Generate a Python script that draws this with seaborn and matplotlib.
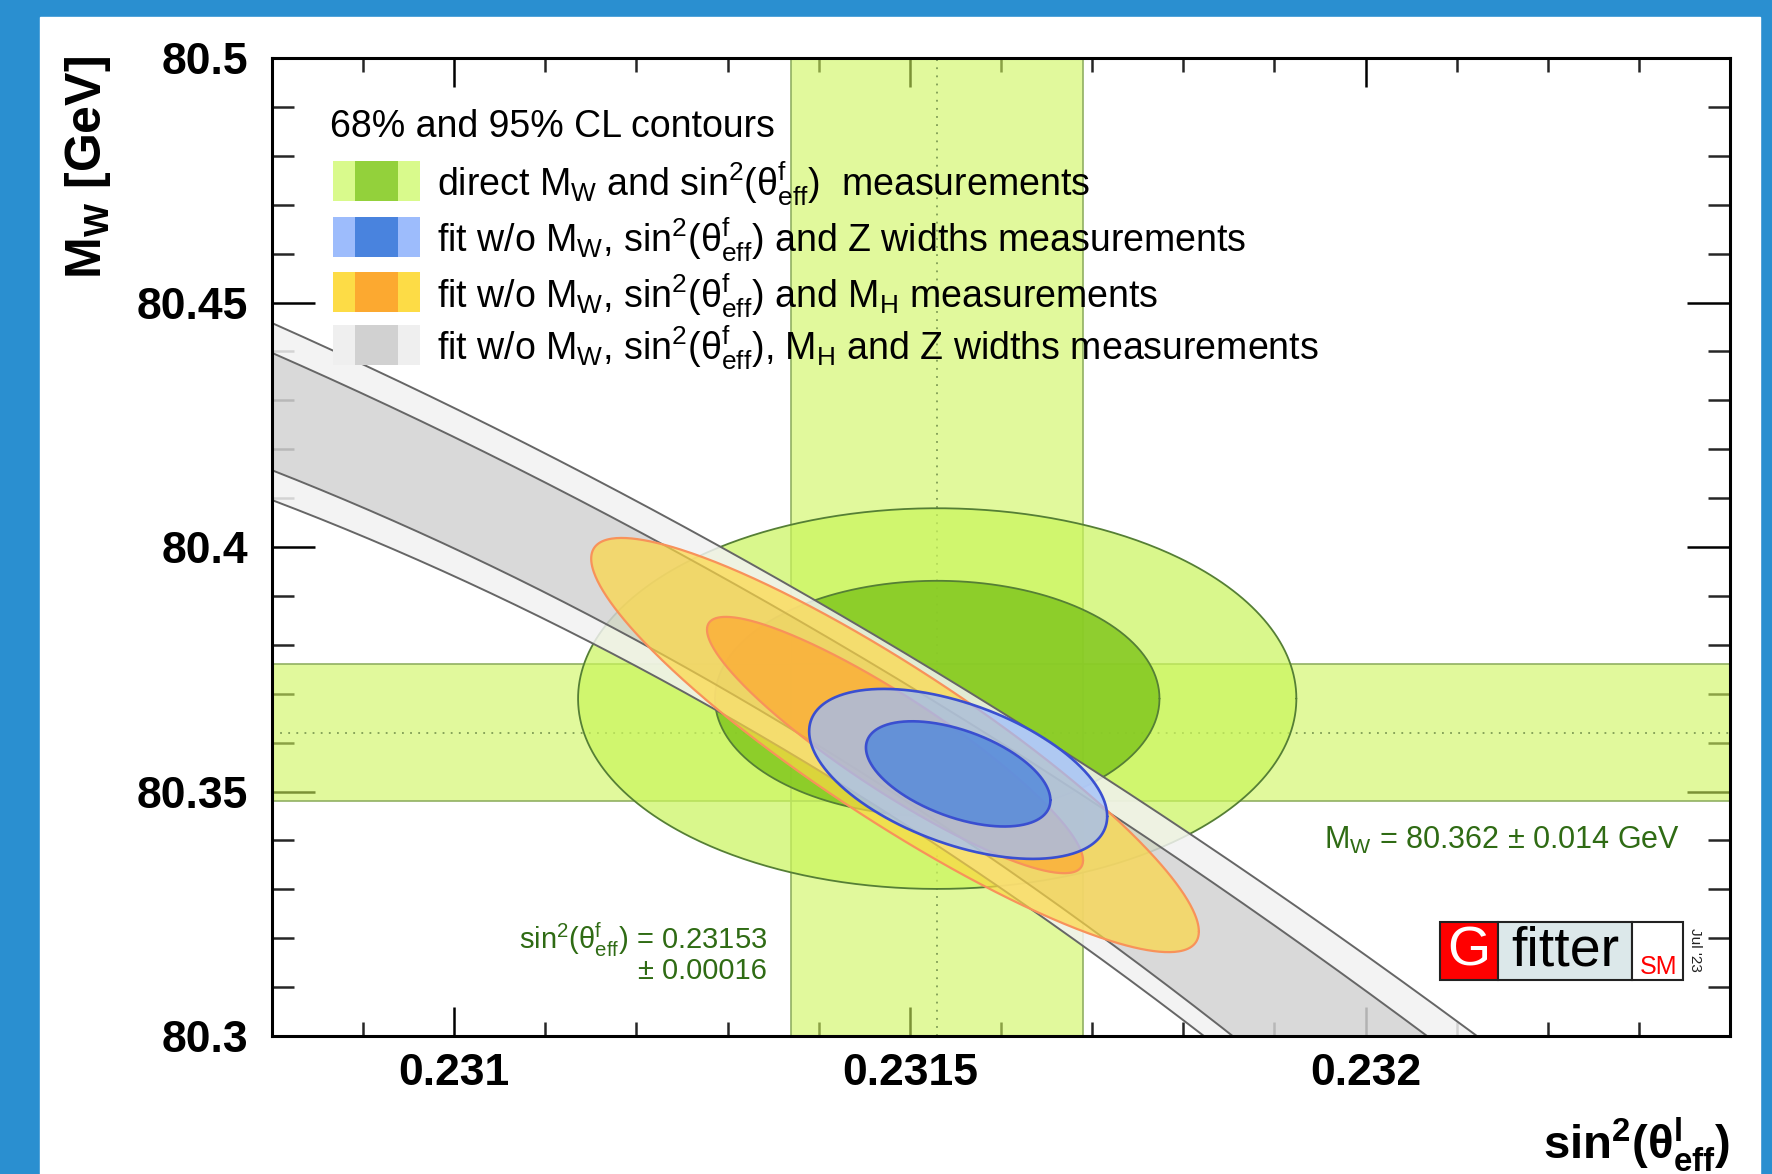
import numpy as np
import pandas as pd
import matplotlib
matplotlib.use("Agg")
import matplotlib.pyplot as plt
import seaborn as sns
from matplotlib.patches import Rectangle

# ---------------- data ----------------
x_limits = [0.2308, 0.2324]
y_limits = [80.30, 80.50]
x_major_ticks = [0.2310, 0.2315, 0.2320]
x_tick_labels = ["0.231", "0.2315", "0.232"]
x_minor_step = 0.0001
y_major_ticks = [80.30, 80.35, 80.40, 80.45, 80.50]
y_tick_labels = ["80.3", "80.35", "80.4", "80.45", "80.5"]
y_minor_step = 0.01

sin2_value = 0.23153
sin2_error = 0.00016
mw_value = 80.362
mw_error = 0.014

cl_radius = [1.515, 2.448]   # 68 % and 95 % CL (2 dof)

# ellipses: centre x, centre y, sigma x, sigma y, correlation
direct_ellipse = [0.23153, 80.369, 0.000161, 0.0159, 0.0]
fit_noZ_ellipse = [0.231553, 80.3536, 0.0000668, 0.0071, -0.50]
fit_noMH_ellipse = [0.2314837, 80.3595, 0.0001362, 0.0173, -0.90]

# gray band edges: y = c0 + c1*(x-x0) + c2*(x-x0)^2, x0 = 0.2308
gray_outer_upper = [80.4458, -82.72, -20829.0]
gray_inner_upper = [80.4397, -81.70, -22493.0]
gray_inner_lower = [80.4157, -73.03, -34830.0]
gray_outer_lower = [80.4096, -70.80, -35560.0]

legend_title = "68% and 95% CL contours"
legend_labels = [
    r"direct $\mathregular{M_{W}}$ and $\mathregular{sin^{2}(θ^{f}_{eff})}$  measurements",
    r"fit w/o $\mathregular{M_{W}}$, $\mathregular{sin^{2}(θ^{f}_{eff})}$ and Z widths measurements",
    r"fit w/o $\mathregular{M_{W}}$, $\mathregular{sin^{2}(θ^{f}_{eff})}$ and $\mathregular{M_{H}}$ measurements",
    r"fit w/o $\mathregular{M_{W}}$, $\mathregular{sin^{2}(θ^{f}_{eff})}$, $\mathregular{M_{H}}$ and Z widths measurements",
]
legend_light = ["#d9fa8c", "#9dbcfc", "#fddc46", "#efefef"]
legend_dark = ["#93d13b", "#4983de", "#fca930", "#d1d1d1"]

# ---------------- style ----------------
sns.set_theme(style="ticks")
plt.rcParams["font.family"] = ["Liberation Sans", "DejaVu Sans"]
plt.rcParams["text.color"] = "black"
plt.rcParams["mathtext.fontset"] = "custom"
plt.rcParams["mathtext.rm"] = "Liberation Sans"
plt.rcParams["mathtext.it"] = "Liberation Sans:italic"
plt.rcParams["mathtext.bf"] = "Liberation Sans:bold"

W, H = 1772, 1174
fig = plt.figure(figsize=(W / 100, H / 100), dpi=100, facecolor="#2a8fd0")
fig.patches.append(Rectangle((40 / W, 0), (1760 - 40) / W, (H - 17) / H,
                             transform=fig.transFigure, color="white", zorder=0))

AX_L, AX_R, AX_T, AX_B = 272, 1730, 58, 1036
AXW, AXH = AX_R - AX_L, AX_B - AX_T
ax = fig.add_axes([AX_L / W, 1 - AX_B / H, AXW / W, AXH / H])
ax.set_facecolor("white")
ax.set_zorder(1)


def axx(px):
    return (px - AX_L) / AXW


def axy(py):
    return (AX_B - py) / AXH


# bands
ax.axvspan(sin2_value - sin2_error, sin2_value + sin2_error, color="#cef55a", alpha=0.6, lw=0, zorder=1)
ax.axhspan(mw_value - mw_error, mw_value + mw_error, color="#cef55a", alpha=0.6, lw=0, zorder=1)
for v in (sin2_value - sin2_error, sin2_value + sin2_error):
    ax.axvline(v, color="#8fae60", lw=1.3, alpha=0.9, zorder=1.5)
for v in (mw_value - mw_error, mw_value + mw_error):
    ax.axhline(v, color="#8fae60", lw=1.3, alpha=0.9, zorder=1.5)
ax.axvline(sin2_value, color="#7f9c55", lw=1.3, ls=(0, (1, 3.5)), zorder=1.6)
ax.axhline(mw_value, color="#7f9c55", lw=1.3, ls=(0, (1, 3.5)), zorder=1.6)

t = np.linspace(0, 2 * np.pi, 500)


def ellipse_xy(p, k):
    cx, cy, sx, sy, rho = p
    x = cx + k * sx * np.cos(t)
    y = cy + k * sy * (rho * np.cos(t) + np.sqrt(1 - rho ** 2) * np.sin(t))
    return x, y


def draw_ellipse(p, colors, alphas, edge, lw, z):
    for k, c, a in zip(cl_radius[::-1], colors, alphas):
        x, y = ellipse_xy(p, k)
        ax.fill(x, y, color=c, alpha=a, lw=0, zorder=z)
        sns.lineplot(x=x, y=y, sort=False, estimator=None, ax=ax,
                     color=edge, lw=lw, zorder=z + 0.5)


# direct measurement ellipses
draw_ellipse(direct_ellipse, ["#caf55b", "#82c71f"], [0.7, 0.85], "#557f35", 1.3, 2)

# gray band
xg = np.linspace(x_limits[0], x_limits[1], 600)


def poly(c):
    d = xg - x_limits[0]
    return c[0] + c[1] * d + c[2] * d ** 2


ou, iu, il, ol = poly(gray_outer_upper), poly(gray_inner_upper), poly(gray_inner_lower), poly(gray_outer_lower)
ax.fill_between(xg, iu, ou, color="#f2f2f2", alpha=0.85, lw=0, zorder=3)
ax.fill_between(xg, ol, il, color="#f2f2f2", alpha=0.85, lw=0, zorder=3)
ax.fill_between(xg, il, iu, color="#d3d3d3", alpha=0.85, lw=0, zorder=3)
for yy in (ou, iu, il, ol):
    sns.lineplot(x=xg, y=yy, sort=False, estimator=None, ax=ax, color="#666666", lw=1.4, zorder=3.5)

# fit without MH
draw_ellipse(fit_noMH_ellipse, ["#fdd743", "#fda830"], [0.7, 0.7], "#f8925a", 1.6, 4)
# fit without Z widths
draw_ellipse(fit_noZ_ellipse, ["#9cbcff", "#4984dd"], [0.72, 0.75], "#3a4fd0", 1.9, 5)

ax.set_xlim(x_limits)
ax.set_ylim(y_limits)

# ticks
ax.set_xticks(x_major_ticks, x_tick_labels, fontsize=32, fontweight="bold")
ax.set_yticks(y_major_ticks, y_tick_labels, fontsize=32, fontweight="bold")
ax.set_xticks(np.arange(x_limits[0], x_limits[1] + 1e-9, x_minor_step), minor=True)
ax.set_yticks(np.arange(y_limits[0], y_limits[1] + 1e-9, y_minor_step), minor=True)
ax.tick_params(axis="x", which="major", direction="in", length=21, width=1.8, top=True,
               bottom=True, pad=12, colors="black")
ax.tick_params(axis="x", which="minor", direction="in", length=10, width=1.8, top=True, bottom=True)
ax.tick_params(axis="y", which="major", direction="in", length=31, width=1.8, left=True,
               right=True, pad=17, colors="black")
ax.tick_params(axis="y", which="minor", direction="in", length=16, width=1.8, left=True, right=True)
for s in ax.spines.values():
    s.set_linewidth(2.2)
    s.set_color("black")
    s.set_zorder(20)

# axis titles
fig.text(88 / W, 1 - 56 / H, r"$\mathregular{M_{W}}$ [GeV]", rotation=90, ha="center", va="top",
         fontsize=36, fontweight="bold")
fig.text(1730 / W, 1 - 1145 / H, r"$\mathregular{sin^{2}(θ^{l}_{eff})}$", ha="right", va="center",
         fontsize=34, fontweight="bold")

TA = ax.transAxes

# legend
ax.text(axx(330), axy(137), legend_title, fontsize=27, ha="left", va="baseline", zorder=30, transform=TA)
row_centres = [181, 237, 292, 345]
for lab, cl, cd, yc in zip(legend_labels, legend_light, legend_dark, row_centres):
    x0, wsw, hsw = 333, 87, 40
    ax.add_patch(Rectangle((axx(x0), axy(yc + hsw / 2)), wsw / AXW, hsw / AXH,
                           transform=TA, color=cl, lw=0, zorder=30))
    ax.add_patch(Rectangle((axx(x0 + 0.25 * wsw), axy(yc + hsw / 2)), 0.5 * wsw / AXW, hsw / AXH,
                           transform=TA, color=cd, lw=0, zorder=31))
    ax.text(axx(437), axy(yc + 15), lab, fontsize=27, ha="left", va="baseline", zorder=30, transform=TA)

# value annotations
green_txt = "#2f6b14"
ax.text(axx(1680), axy(849), rf"$\mathregular{{M_{{W}}}}$ = {mw_value:.3f} ± {mw_error:.3f} GeV",
        fontsize=22, color=green_txt, ha="right", va="baseline", zorder=30, transform=TA)
ax.text(axx(767), axy(949), rf"$\mathregular{{sin^{{2}}(θ^{{f}}_{{eff}})}}$ = {sin2_value:.5f}",
        fontsize=21, color=green_txt, ha="right", va="baseline", zorder=30, transform=TA)
ax.text(axx(767), axy(979), f"± {sin2_error:.5f}",
        fontsize=21, color=green_txt, ha="right", va="baseline", zorder=30, transform=TA)

# Gfitter logo
bx0, bx1, bx2, bx3, by0, by1 = 1440, 1498, 1632, 1683, 922, 980
for xa, xb, col in ((bx0, bx1, "#ff0000"), (bx1, bx2, "#dce8ea"), (bx2, bx3, "white")):
    ax.add_patch(Rectangle((axx(xa), axy(by1)), (xb - xa) / AXW, (by1 - by0) / AXH,
                           transform=TA, facecolor=col, edgecolor="#222222", lw=1.5, zorder=30))
ax.text(axx((bx0 + bx1) / 2), axy(951), "G", fontsize=40, color="white", ha="center", va="center",
        zorder=31, transform=TA)
ax.text(axx((bx1 + bx2) / 2), axy(951), "fitter", fontsize=40, color="black", ha="center", va="center",
        zorder=31, transform=TA)
ax.text(axx((bx2 + bx3) / 2 + 1), axy(974), "SM", fontsize=18, color="#ff0000", ha="center",
        va="baseline", zorder=31, transform=TA)
ax.text(axx(1695), axy(950), "Jul '23", fontsize=11, color="#222222", rotation=270,
        ha="center", va="center", zorder=31, transform=TA)

fig.savefig("out.png", dpi=100, facecolor=fig.get_facecolor())
